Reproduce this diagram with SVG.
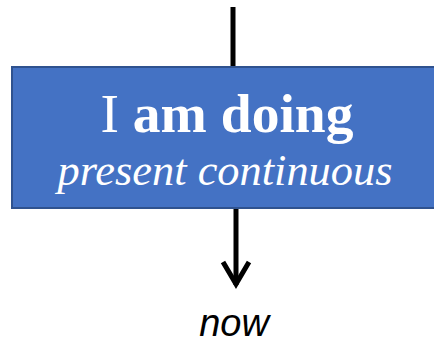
<svg xmlns="http://www.w3.org/2000/svg" width="434" height="344" viewBox="0 0 434 344">
<style>
.conn{stroke:#000;stroke-width:5;fill:none}
.box{fill:#4472C4;stroke:#2F528F;stroke-width:2}
.t{fill:#fff;font-family:"Liberation Serif","DejaVu Serif",serif;text-anchor:middle}
.now{fill:#000;font-family:"Liberation Sans","Open Sans",sans-serif;font-style:italic;font-size:38px;text-anchor:middle}
</style>
<g id="connectors">
<line class="conn" x1="233" y1="7" x2="233" y2="67"/>
<line class="conn" x1="236" y1="207" x2="236" y2="285"/>
<polyline class="conn" points="223,262 236,284 249,262"/>
</g>
<g id="node-box">
<rect class="box" x="12" y="67" width="424" height="141"/>
<text class="t" x="227" y="132" font-size="54" textLength="253" lengthAdjust="spacingAndGlyphs">I <tspan font-weight="bold">am doing</tspan></text>
<text class="t" x="225" y="185" font-size="44" font-style="italic" textLength="335" lengthAdjust="spacingAndGlyphs">present continuous</text>
</g>
<g id="node-now">
<text class="now" x="234" y="336">now</text>
</g>
</svg>
